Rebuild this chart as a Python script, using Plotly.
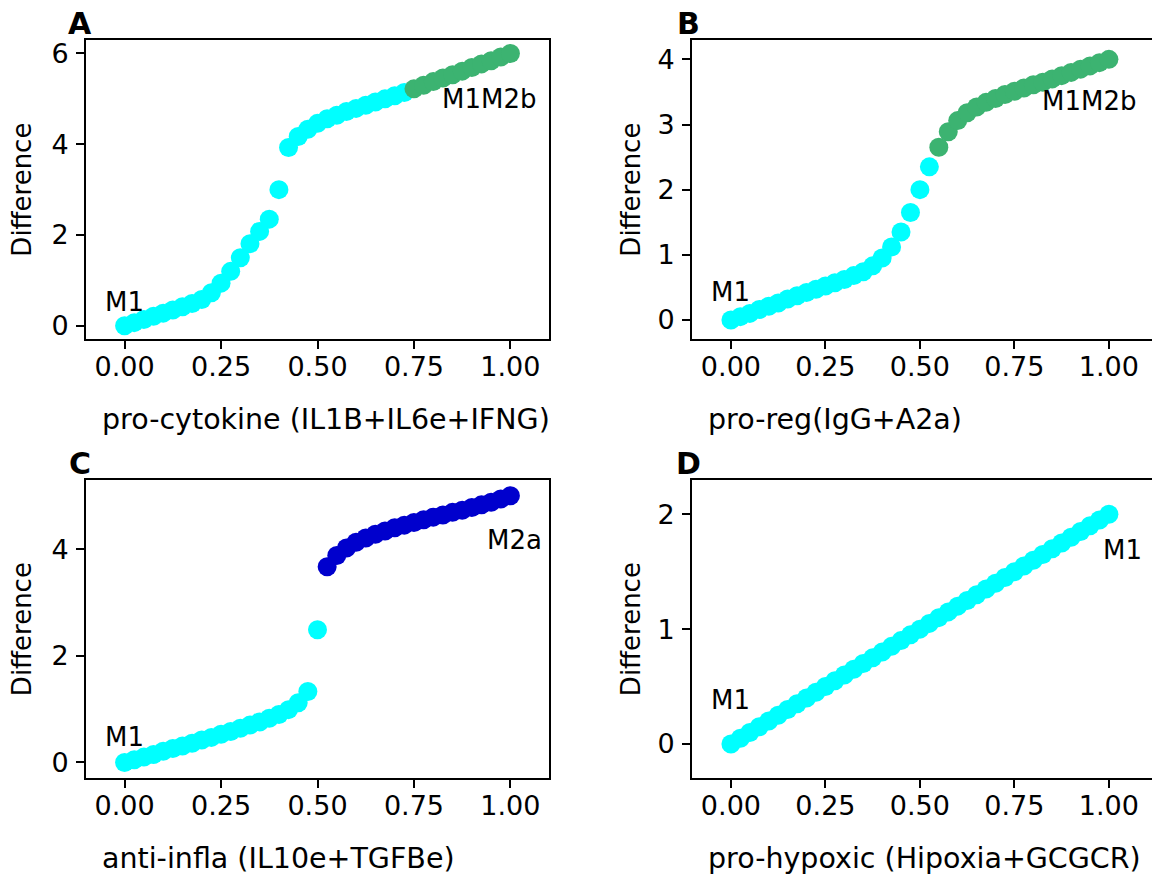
import plotly.graph_objects as go

W, H = 1152, 878
FONT = "DejaVu Sans"

# ---------------- data ----------------
x_vals = [0.000, 0.025, 0.050, 0.075, 0.100, 0.125, 0.150, 0.175, 0.200, 0.225,
          0.250, 0.275, 0.300, 0.325, 0.350, 0.375, 0.400, 0.425, 0.450, 0.475,
          0.500, 0.525, 0.550, 0.575, 0.600, 0.625, 0.650, 0.675, 0.700, 0.725,
          0.750, 0.775, 0.800, 0.825, 0.850, 0.875, 0.900, 0.925, 0.950, 0.975,
          1.000]

diff_A = [0.00, 0.07, 0.14, 0.21, 0.28, 0.35, 0.42, 0.49, 0.58, 0.73,
          0.94, 1.20, 1.50, 1.81, 2.08, 2.35, 3.00, 3.93, 4.17, 4.33,
          4.46, 4.56, 4.64, 4.72, 4.79, 4.86, 4.93, 5.00, 5.07, 5.14,
          5.22, 5.30, 5.38, 5.46, 5.53, 5.61, 5.69, 5.77, 5.84, 5.92,
          6.00]
state_A = ["M1"] * 30 + ["M1M2b"] * 11

diff_B = [0.00, 0.05, 0.10, 0.16, 0.21, 0.26, 0.32, 0.37, 0.42, 0.47,
          0.52, 0.57, 0.62, 0.68, 0.74, 0.83, 0.95, 1.12, 1.35, 1.65,
          2.00, 2.35, 2.65, 2.89, 3.06, 3.18, 3.27, 3.34, 3.40, 3.46,
          3.51, 3.56, 3.61, 3.65, 3.70, 3.75, 3.80, 3.85, 3.90, 3.95,
          4.00]
state_B = ["M1"] * 22 + ["M1M2b"] * 19

diff_C = [0.00, 0.05, 0.10, 0.15, 0.21, 0.26, 0.31, 0.36, 0.42, 0.47,
          0.53, 0.58, 0.64, 0.70, 0.76, 0.83, 0.90, 0.99, 1.12, 1.33,
          2.49, 3.67, 3.88, 4.02, 4.13, 4.21, 4.28, 4.34, 4.40, 4.45,
          4.50, 4.55, 4.60, 4.64, 4.69, 4.73, 4.78, 4.83, 4.88, 4.94,
          5.00]
state_C = ["M1"] * 21 + ["M2a"] * 20

diff_D = [0.00, 0.05, 0.10, 0.15, 0.20, 0.25, 0.30, 0.35, 0.40, 0.45,
          0.50, 0.55, 0.60, 0.65, 0.70, 0.75, 0.80, 0.85, 0.90, 0.95,
          1.00, 1.05, 1.10, 1.15, 1.20, 1.25, 1.30, 1.35, 1.40, 1.45,
          1.50, 1.55, 1.60, 1.65, 1.70, 1.75, 1.80, 1.85, 1.90, 1.95,
          2.00]
state_D = ["M1"] * 41

state_colors = {"M1": "#00FFFF", "M1M2b": "#3CB371", "M2a": "#0000CD"}

x_titles = ["pro-cytokine (IL1B+IL6e+IFNG)", "pro-reg(IgG+A2a)",
            "anti-infla (IL10e+TGFBe)", "pro-hypoxic (Hipoxia+GCGCR)"]
panel_letters = ["A", "B", "C", "D"]
x_ticks = [0.0, 0.25, 0.5, 0.75, 1.0]
y_ticks = [[0, 2, 4, 6], [0, 1, 2, 3, 4], [0, 2, 4], [0, 1, 2]]
# state labels: (text, x, y)
state_labels = [
    [("M1", 0.0, 0.53), ("M1M2b", 0.945, 5.0)],
    [("M1", 0.0, 0.43), ("M1M2b", 0.947, 3.36)],
    [("M1", 0.0, 0.47), ("M2a", 1.01, 4.17)],
    [("M1", 0.0, 0.38), ("M1", 1.035, 1.69)],
]

panels = [(diff_A, state_A), (diff_B, state_B), (diff_C, state_C), (diff_D, state_D)]

# ---------------- layout geometry (pixels) ----------------
# (left, right, top, bottom)
boxes = [(86, 549, 38, 339), (692, 1152, 38, 339),
         (86, 549, 480, 780), (692, 1152, 480, 780)]
x_ranges = [[-0.1, 1.1], [-0.103, 1.114], [-0.1, 1.1], [-0.103, 1.114]]

fig = go.Figure()

for i, (vals, states) in enumerate(panels):
    ax = "" if i == 0 else str(i + 1)
    for st in dict.fromkeys(states):
        xs = [x for x, s in zip(x_vals, states) if s == st]
        ys = [y for y, s in zip(vals, states) if s == st]
        fig.add_trace(go.Scatter(
            x=xs, y=ys, mode="markers", xaxis="x" + ax, yaxis="y" + ax,
            marker=dict(size=19, color=state_colors[st], line=dict(width=0)),
            showlegend=False, hoverinfo="x+y"))

    l, r, t, b = boxes[i]
    right_col = i in (1, 3)
    ymax = max(vals)
    common = dict(showline=True, linecolor="black", linewidth=2,
                  ticks="outside", ticklen=8, tickwidth=2, tickcolor="black",
                  showgrid=False, zeroline=False,
                  tickfont=dict(family=FONT, size=27, color="black"))
    fig.layout["xaxis" + ax] = dict(
        common, domain=[l / W, r / W], anchor="y" + ax, mirror=True,
        range=x_ranges[i], tickvals=x_ticks, tickformat=".2f",
        ticklabelstandoff=-6)
    fig.layout["yaxis" + ax] = dict(
        common, domain=[1 - b / H, 1 - t / H], anchor="x" + ax,
        mirror=not right_col, range=[-0.3, ymax + 0.3],
        tickvals=y_ticks[i], ticklabelstandoff=2)

    # state labels
    for txt, tx, ty in state_labels[i]:
        fig.add_annotation(text=txt, x=tx, y=ty, xref="x" + ax, yref="y" + ax,
                           showarrow=False, xanchor="center", yanchor="middle",
                           font=dict(family=FONT, size=26, color="black"))
    # x-axis title
    fig.add_annotation(text=x_titles[i], x=(100 if not right_col else 706) / W,
                       y=1 - (b + 80) / H, xref="paper", yref="paper",
                       showarrow=False, xanchor="left", yanchor="middle",
                       font=dict(family=FONT, size=28.5, color="black"))
    # y-axis title
    fig.add_annotation(text="Difference", x=(22 if not right_col else 631) / W,
                       y=1 - (t + b) / 2 / H, xref="paper", yref="paper",
                       showarrow=False, textangle=-90, xanchor="center",
                       yanchor="middle",
                       font=dict(family=FONT, size=26, color="black"))
    # panel letter
    fig.add_annotation(text="<b>" + panel_letters[i] + "</b>",
                       x=(80 if not right_col else 688) / W,
                       y=1 - (t - 16) / H, xref="paper", yref="paper",
                       showarrow=False, xanchor="center", yanchor="middle",
                       font=dict(family=FONT, size=30, color="black"))

fig.update_layout(width=W, height=H, margin=dict(l=0, r=0, t=0, b=0),
                  paper_bgcolor="white", plot_bgcolor="white",
                  font=dict(family=FONT, color="black"))

fig.write_html("out.html")
